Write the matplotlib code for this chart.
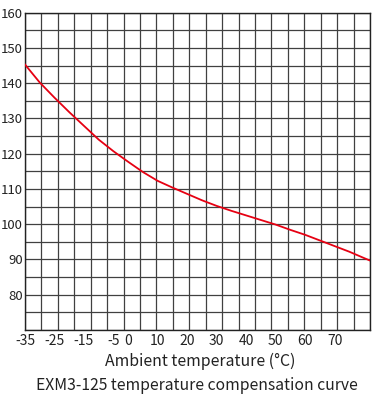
import numpy as np
import matplotlib
matplotlib.use("Agg")
import matplotlib.pyplot as plt

plt.rcParams['font.family'] = ['Noto Sans CJK SC', 'DejaVu Sans']

# ambient temperature (degC) vs. compensated current (%)
temps = [-35, -30, -25, -20, -15, -10, -5, 0, 5, 10, 15, 20, 25, 30,
         35, 40, 45, 50, 55, 60, 65, 70, 75, 80, 82]
current = [145.3, 140.2, 135.9, 131.8, 127.9, 124.0, 120.7, 117.7, 114.8, 112.3,
           110.4, 108.6, 106.8, 105.2, 103.8, 102.5, 101.2, 99.9, 98.4, 97.0,
           95.4, 93.8, 92.2, 90.4, 89.7]

x_ticks = [-35, -25, -15, -5, 0, 10, 20, 30, 40, 50, 60, 70]
y_ticks = [80, 90, 100, 110, 120, 130, 140, 150, 160]

x_min, x_max = -35, 82
y_min, y_max = 70, 160

fig = plt.figure(figsize=(3.73, 4.03), dpi=100)
ax = fig.add_axes([25 / 373, 1 - 330 / 403, 345 / 373, (330 - 12.7) / 403])

# square grid: 21 columns, 18 rows
for gx in np.linspace(x_min, x_max, 22):
    ax.axvline(gx, color="#404040", lw=0.9, zorder=1)
for gy in np.arange(y_min, y_max + 1, 5):
    ax.axhline(gy, color="#404040", lw=0.9, zorder=1)

ax.plot(temps, current, color="#e60012", lw=1.3, zorder=3)

ax.set_xlim(x_min, x_max)
ax.set_ylim(y_min, y_max)
ax.set_xticks(x_ticks)
ax.set_xticklabels([str(t) for t in x_ticks])
ax.set_yticks(y_ticks)
ax.tick_params(axis="x", length=0, labelsize=10, colors="#222222", pad=3)
ax.tick_params(axis="y", length=0, labelsize=9.5, colors="#222222", pad=1.5)

for s in ax.spines.values():
    s.set_color("#222222")
    s.set_linewidth(1.0)

fig.text(200 / 373, 1 - 361.5 / 403, "Ambient temperature (°C)",
         ha="center", va="center", fontsize=11.4, color="#222222")
fig.text(197 / 373, 1 - 385 / 403, "EXM3-125 temperature compensation curve",
         ha="center", va="center", fontsize=11.3, color="#222222")

fig.savefig("out.png", dpi=100)
